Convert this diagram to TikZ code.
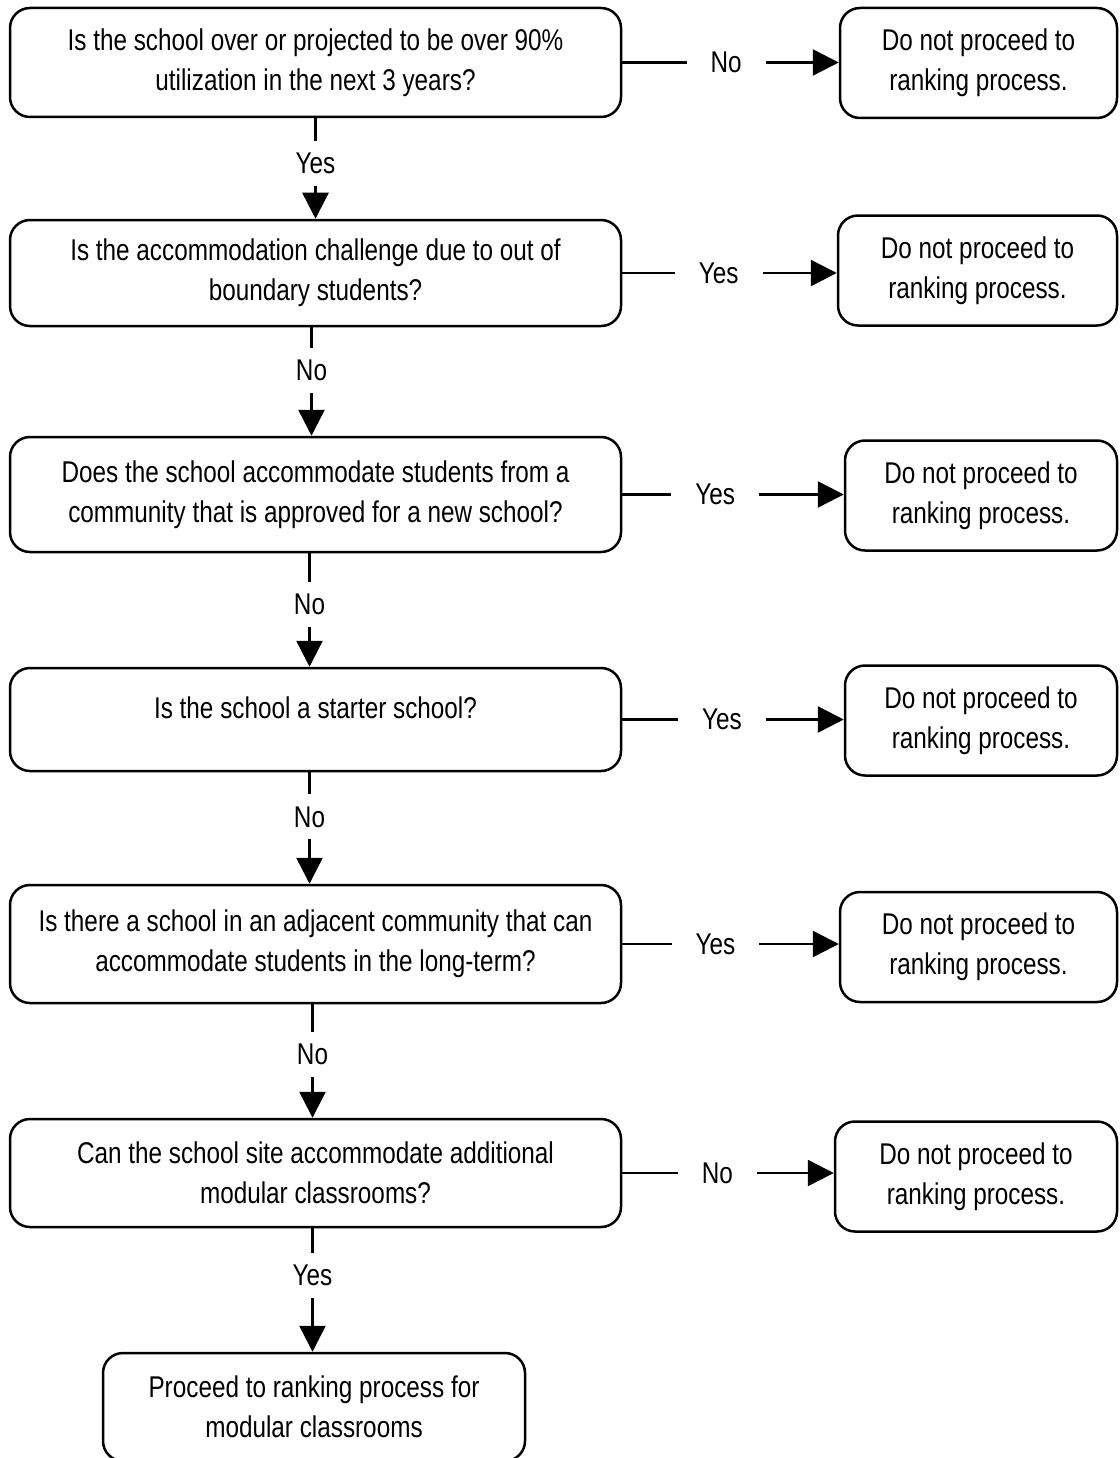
\documentclass[tikz,border=0pt]{standalone}
\usepackage{fontspec}
\setmainfont[FakeStretch=0.81]{Liberation Sans}
\usetikzlibrary{arrows.meta}

\begin{document}
\begin{tikzpicture}[x=1pt,y=-1pt,>={Triangle[length=26pt,width=26pt]},line width=2.5pt,
  box/.style={draw,rounded corners=20pt,align=center,font=\fontsize{30}{40}\selectfont},
  question/.style={box,minimum width=611pt},
  stopbox/.style={box,minimum height=110pt},
  side/.style={fill=white,inner xsep=24pt,inner ysep=0pt,font=\fontsize{30}{36}\selectfont},
  down/.style={fill=white,inner xsep=2pt,inner ysep=12pt,font=\fontsize{30}{36}\selectfont}]
  \useasboundingbox (0,0) rectangle (1119,1458);
  % questions
  \node[question,minimum height=109pt] (q1) at (315.5,62.5) {Is the school over or projected to be over 90\%\\utilization in the next 3 years?};
  \node[question,minimum height=106pt] (q2) at (315.5,273) {Is the accommodation challenge due to out of\\boundary students?};
  \node[question,minimum height=115pt] (q3) at (315.5,494.5) {Does the school accommodate students from a\\community that is approved for a new school?};
  \node[question,minimum height=103pt] (q4) at (315.5,719.5) {Is the school a starter school?\\[-17pt]\mbox{}};
  \node[question,minimum height=118pt] (q5) at (315.5,944) {Is there a school in an adjacent community that can\\accommodate students in the long-term?};
  \node[question,minimum height=108pt] (q6) at (315.5,1173) {Can the school site accommodate additional\\modular classrooms?};
  \node[box,minimum width=422pt,minimum height=108pt] (go) at (314,1407) {Proceed to ranking process for\\modular classrooms};
  % outcomes
  \node[stopbox,minimum width=277pt] (r1) at (978.5,63) {Do not proceed to\\ranking process.};
  \node[stopbox,minimum width=279pt] (r2) at (977.5,270.5) {Do not proceed to\\ranking process.};
  \node[stopbox,minimum width=272pt] (r3) at (981,495.5) {Do not proceed to\\ranking process.};
  \node[stopbox,minimum width=272pt] (r4) at (981,720.5) {Do not proceed to\\ranking process.};
  \node[stopbox,minimum width=277pt] (r5) at (978.5,947) {Do not proceed to\\ranking process.};
  \node[stopbox,minimum width=282pt] (r6) at (976,1176.5) {Do not proceed to\\ranking process.};
  % sideways
  \draw[->] (q1.east) -- node[side,pos=0.48] {No} (q1.east -| r1.west);
  \draw[->] (q2.east) -- node[side,pos=0.45] {Yes} (q2.east -| r2.west);
  \draw[->] (q3.east) -- node[side,pos=0.42] {Yes} (q3.east -| r3.west);
  \draw[->] (q4.east) -- node[side,pos=0.45] {Yes} (q4.east -| r4.west);
  \draw[->] (q5.east) -- node[side,pos=0.43] {Yes} (q5.east -| r5.west);
  \draw[->] (q6.east) -- node[side,pos=0.45] {No} (q6.east -| r6.west);
  % downwards
  \draw[->] (q1.south) -- node[down,pos=0.45] {Yes} (q1.south |- q2.north);
  \draw[->] ([xshift=-4pt]q2.south) -- node[down,pos=0.40] {No} ([xshift=-4pt]q2.south |- q3.north);
  \draw[->] ([xshift=-6pt]q3.south) -- node[down,pos=0.45] {No} ([xshift=-6pt]q3.south |- q4.north);
  \draw[->] ([xshift=-6pt]q4.south) -- node[down,pos=0.40] {No} ([xshift=-6pt]q4.south |- q5.north);
  \draw[->] ([xshift=-3pt]q5.south) -- node[down,pos=0.44] {No} ([xshift=-3pt]q5.south |- q6.north);
  \draw[->] ([xshift=-3pt]q6.south) -- node[down,pos=0.38] {Yes} ([xshift=-3pt]q6.south |- go.north);
\end{tikzpicture}
\end{document}
